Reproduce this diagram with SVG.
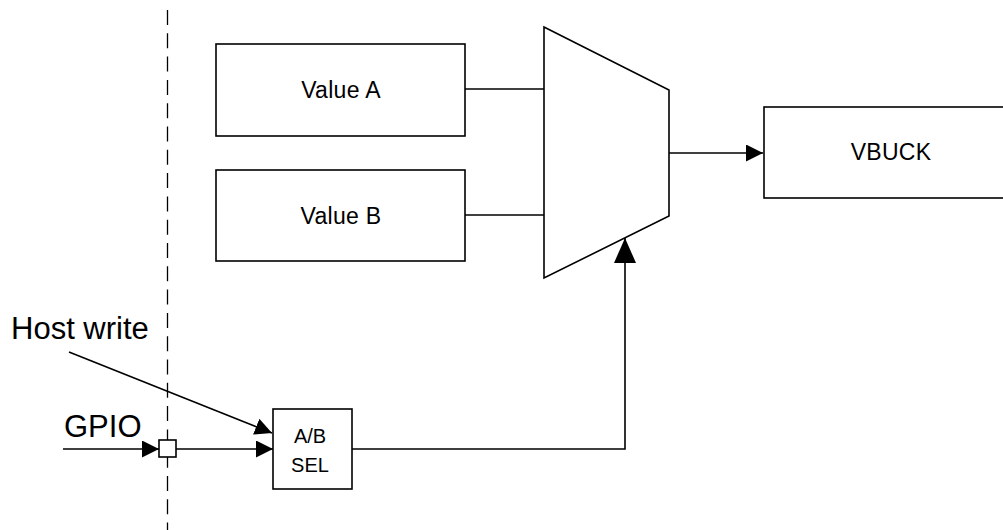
<svg xmlns="http://www.w3.org/2000/svg" width="1003" height="530" viewBox="0 0 1003 530">
<style>
.box{fill:#fff;stroke:#000;stroke-width:1.6}
.ln{fill:none;stroke:#000;stroke-width:1.6}
.t{font-family:"Liberation Sans",Arial,sans-serif;fill:#000;text-anchor:middle}
.s{font-size:23px;letter-spacing:0.3px}
.l{font-size:31px;text-anchor:start}
</style>
<defs>
<marker id="ah" markerUnits="userSpaceOnUse" markerWidth="18" markerHeight="17" refX="17" refY="8.5" orient="auto" viewBox="0 0 18 17">
<path d="M0,0 L17,8.5 L0,17 z" fill="#000"/>
</marker>
<marker id="ahL" markerUnits="userSpaceOnUse" markerWidth="25" markerHeight="22" refX="25" refY="11" orient="auto" viewBox="0 0 25 22">
<path d="M0,0 L25,11 L0,22 z" fill="#000"/>
</marker>
</defs>
<rect width="1003" height="530" fill="#fff"/>
<line x1="167.5" y1="10" x2="167.5" y2="530" stroke="#000" stroke-width="1.3" stroke-dasharray="15 8.3"/>
<g id="connectors">
<line class="ln" x1="465" y1="89" x2="544" y2="89"/>
<line class="ln" x1="465" y1="215" x2="544" y2="215"/>
<line class="ln" x1="669" y1="153" x2="763" y2="153" marker-end="url(#ah)"/>
<polyline class="ln" points="352,449 625,449 625,238" marker-end="url(#ahL)"/>
<line class="ln" x1="63" y1="449" x2="159" y2="449" marker-end="url(#ah)"/>
<line class="ln" x1="176" y1="449" x2="273" y2="449" marker-end="url(#ah)"/>
<line class="ln" x1="69" y1="352" x2="272" y2="433" marker-end="url(#ah)"/>
</g>
<g id="valueA">
<rect class="box" x="216" y="44" width="249" height="92"/>
<text class="t s" x="341" y="98">Value A</text>
</g>
<g id="valueB">
<rect class="box" x="216" y="170" width="249" height="91"/>
<text class="t s" x="341" y="224">Value B</text>
</g>
<g id="mux">
<polygon class="box" points="544,27 669,90 669,216 544,278"/>
</g>
<g id="vbuck">
<rect class="box" x="764" y="107" width="254" height="91"/>
<text class="t s" x="891" y="160">VBUCK</text>
</g>
<g id="absel">
<rect class="box" x="273" y="409" width="79" height="80"/>
<text class="t" x="310" y="443" font-size="20">A/B</text>
<text class="t" x="310" y="472" font-size="20">SEL</text>
</g>
<g id="pin">
<rect class="box" x="159" y="440" width="17" height="17"/>
</g>
<g id="labels">
<text class="t l" x="11" y="339">Host write</text>
<text class="t l" x="64" y="437">GPIO</text>
</g>
</svg>
